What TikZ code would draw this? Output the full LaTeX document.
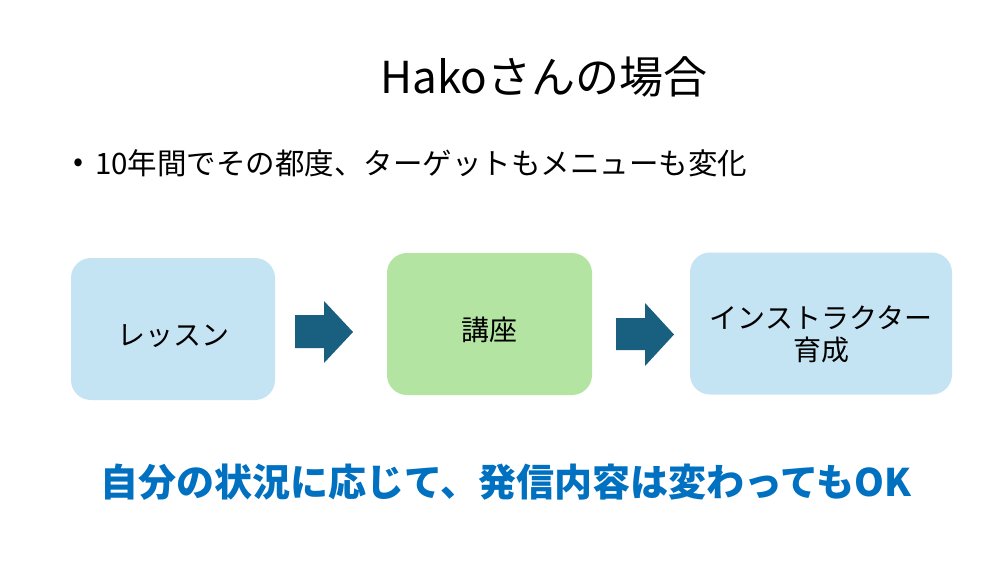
\documentclass[tikz,border=0pt]{standalone}
\usepackage{fontspec}
\setmainfont{Noto Sans CJK JP}
\usepackage{tikz}
\usetikzlibrary{positioning}

\definecolor{paleblue}{RGB}{197,228,243}
\definecolor{palegreen}{RGB}{180,228,162}
\definecolor{arrowblue}{RGB}{24,95,128}
\definecolor{noteblue}{RGB}{0,112,192}

\begin{document}
\begin{tikzpicture}
      [x = 1pt, y = -1pt,
      box/.style= {
         rounded corners = 20pt,
         inner sep = 0pt,
         minimum height = 142pt,
         align = center,
         text height = 32pt,
         text depth = 0pt,
         font = \fontsize{28}{32}\selectfont
      },
      blockarrow/.style= {
         fill = arrowblue
      }]

      \useasboundingbox[fill = white] (0, 0) rectangle (1006, 562);

      \node (title) at (544, 77) {\fontsize{44}{50}\selectfont Hakoさんの場合};
      \node (dot) at (79, 165) {\fontsize{29.5}{34}\selectfont •};
      \node[anchor = west, inner sep = 0pt] (bullet) at (95, 163)
         {\fontsize{29.5}{34}\selectfont 10年間でその都度、ターゲットもメニューも変化};

      \node[box, fill = paleblue, minimum width = 204pt] (lesson) at (173, 329) {レッスン};
      \node[box, fill = palegreen, minimum width = 205pt] (course) at (489.5, 324) {講座};
      \node[box, fill = paleblue, minimum width = 262pt, text height = 74pt]
         (instructor) at (821, 323.5) {インストラクター\\育成};

      \fill[blockarrow] (295, 315) -- (324, 315) -- (324, 301) -- (353, 332)
         -- (324, 363) -- (324, 348) -- (295, 348) -- cycle;
      \fill[blockarrow] (616, 318) -- (645, 318) -- (645, 303) -- (674, 334.5)
         -- (645, 366) -- (645, 350) -- (616, 350) -- cycle;

      \node[text = noteblue, font = \bfseries\fontsize{38}{44}\selectfont] (note) at (506, 482)
         {自分の状況に応じて、発信内容は変わってもOK};

   \end{tikzpicture}
\end{document}
